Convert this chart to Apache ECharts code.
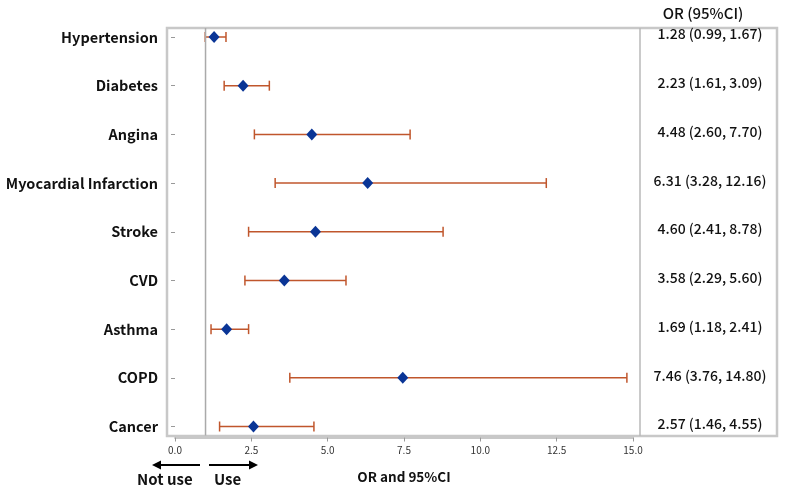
<!DOCTYPE html>
<html><head><meta charset="utf-8">
<script src="https://cdn.jsdelivr.net/npm/echarts@6/dist/echarts.min.js"></script>
<style>html,body{margin:0;padding:0;background:#fff}#c{width:800px;height:489px}</style>
</head><body><div id="c"></div>
<script>
const categories = ["Hypertension","Diabetes","Angina","Myocardial Infarction","Stroke","CVD","Asthma","COPD","Cancer"];
const orValues = [1.28, 2.23, 4.48, 6.31, 4.60, 3.58, 1.69, 7.46, 2.57];
const lowerCI = [0.99, 1.61, 2.60, 3.28, 2.41, 2.29, 1.18, 3.76, 1.46];
const upperCI = [1.67, 3.09, 7.70, 12.16, 8.78, 5.60, 2.41, 14.80, 4.55];
const refValue = 1;
const xTicks = {min: 0, max: 15, interval: 2.5};

const font = '"Noto Sans CJK JP", "Noto Sans", sans-serif';
const chart = echarts.init(document.getElementById('c'));
const ciData = categories.map((c, i) => [lowerCI[i], upperCI[i], i]);
const pointData = categories.map((c, i) => [orValues[i], i]);
const textData = categories.map((c, i) => [0.5, i,
  orValues[i].toFixed(2) + ' (' + lowerCI[i].toFixed(2) + ', ' + upperCI[i].toFixed(2) + ')']);

chart.setOption({
  animation: false,
  backgroundColor: '#fff',
  grid: [
    {left: 175, right: 167, top: 37, bottom: 62},
    {left: 640, right: 23, top: 37, bottom: 62}
  ],
  xAxis: [{
    gridIndex: 0, type: 'value', min: xTicks.min, max: xTicks.max, interval: xTicks.interval,
    offset: 11,
    name: 'OR and 95%CI', nameLocation: 'middle', nameGap: 33,
    nameTextStyle: {fontFamily: font, fontWeight: 'bold', fontSize: 13.5, color: '#111'},
    axisLine: {show: true, lineStyle: {color: '#c8c8c8', width: 2}},
    axisTick: {show: true, length: 4, lineStyle: {color: '#999'}},
    axisLabel: {formatter: v => v.toFixed(1), fontFamily: font, fontSize: 10, color: '#333', margin: 8},
    splitLine: {show: false}
  }, {
    gridIndex: 1, type: 'value', min: 0, max: 1, show: false
  }],
  yAxis: [{
    gridIndex: 0, type: 'category', data: categories, inverse: true, boundaryGap: false,
    offset: 8,
    axisLine: {show: false},
    axisTick: {show: true, length: 4, lineStyle: {color: '#999'}},
    axisLabel: {fontFamily: font, fontWeight: 'bold', fontSize: 14.5, color: '#111', margin: 9},
    splitLine: {show: false}
  }, {
    gridIndex: 1, type: 'category', data: categories, inverse: true, boundaryGap: false, show: false
  }],
  graphic: [
    {type: 'rect', shape: {x: 167, y: 28, width: 610, height: 408}, style: {fill: 'none', stroke: '#c8c8c8', lineWidth: 2.5}, z: 1},
    {type: 'line', shape: {x1: 640, y1: 28, x2: 640, y2: 436}, style: {stroke: '#b8b8b8', lineWidth: 1.5}, z: 1},
    {type: 'text', x: 703, y: 13, style: {text: 'OR (95%CI)', font: '500 15px ' + font, fill: '#111', textAlign: 'center', textVerticalAlign: 'middle'}},
    {type: 'line', shape: {x1: 160, y1: 465, x2: 200, y2: 465}, style: {stroke: '#000', lineWidth: 2}},
    {type: 'polygon', shape: {points: [[152, 465], [161, 460.5], [161, 469.5]]}, style: {fill: '#000'}},
    {type: 'line', shape: {x1: 209, y1: 465, x2: 250, y2: 465}, style: {stroke: '#000', lineWidth: 2}},
    {type: 'polygon', shape: {points: [[258, 465], [249, 460.5], [249, 469.5]]}, style: {fill: '#000'}},
    {type: 'text', x: 137, y: 479, style: {text: 'Not use', font: 'bold 15px ' + font, fill: '#111', textVerticalAlign: 'middle'}},
    {type: 'text', x: 214, y: 479, style: {text: 'Use', font: 'bold 15px ' + font, fill: '#111', textVerticalAlign: 'middle'}}
  ],
  series: [{
    type: 'custom', xAxisIndex: 0, yAxisIndex: 0, data: ciData, z: 3,
    renderItem: function (params, api) {
      const lo = api.coord([api.value(0), api.value(2)]);
      const hi = api.coord([api.value(1), api.value(2)]);
      const h = 5;
      const st = {stroke: '#c0562c', lineWidth: 1.5};
      const children = [
        {type: 'line', shape: {x1: lo[0], y1: lo[1], x2: hi[0], y2: hi[1]}, style: st},
        {type: 'line', shape: {x1: lo[0], y1: lo[1] - h, x2: lo[0], y2: lo[1] + h}, style: st},
        {type: 'line', shape: {x1: hi[0], y1: hi[1] - h, x2: hi[0], y2: hi[1] + h}, style: st}
      ];
      if (params.dataIndex === 0) {
        const cs = params.coordSys;
        const rx = api.coord([refValue, 0])[0];
        children.push({type: 'line', shape: {x1: rx, y1: cs.y - 9, x2: rx, y2: cs.y + cs.height + 9},
          style: {stroke: '#aaa', lineWidth: 1.5}});
      }
      return {type: 'group', children: children};
    }
  }, {
    type: 'scatter', xAxisIndex: 0, yAxisIndex: 0, data: pointData, z: 5,
    symbol: 'diamond', symbolSize: [11, 12],
    itemStyle: {color: '#0a3596', opacity: 1}
  }, {
    type: 'scatter', xAxisIndex: 1, yAxisIndex: 1, data: textData, symbolSize: 0,
    itemStyle: {opacity: 1},
    label: {show: true, position: 'inside', offset: [1.5, -3], formatter: p => p.data[2],
      fontFamily: font, fontWeight: 500, fontSize: 14, color: '#111', textBorderWidth: 0}
  }]
});
</script>
</body></html>
